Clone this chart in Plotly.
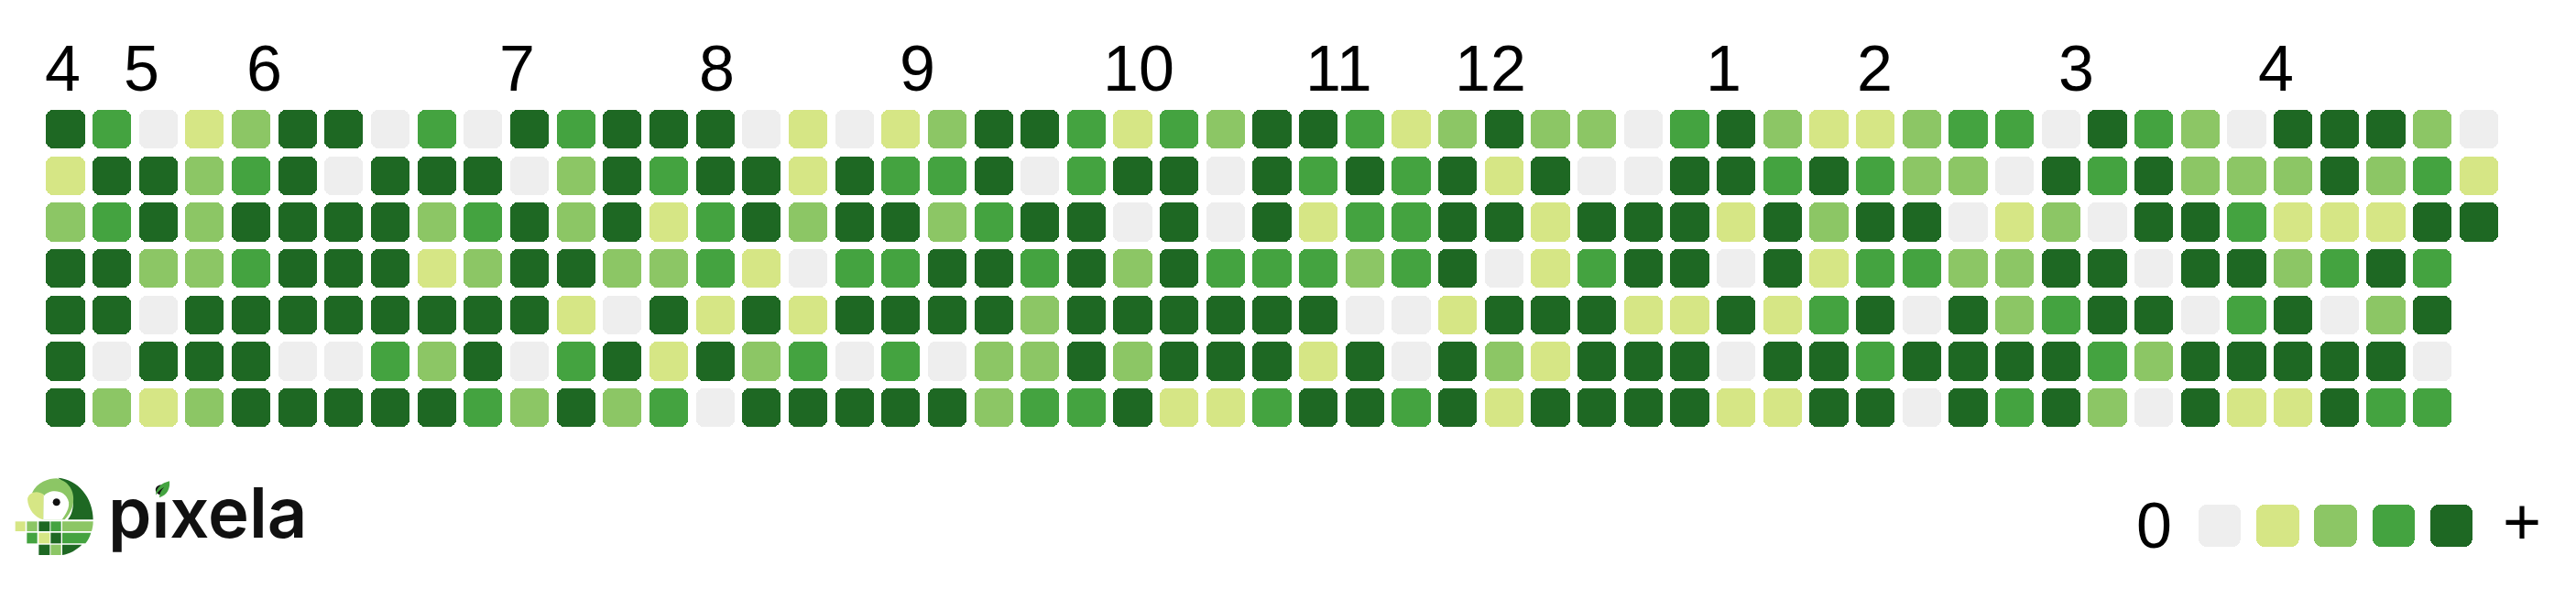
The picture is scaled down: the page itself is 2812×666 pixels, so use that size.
import plotly.graph_objects as go

# contribution levels, one list per weekday row (0 = none ... 4 = most)
row_0 = [4,3,0,1,2,4,4,0,3,0,4,3,4,4,4,0,1,0, 1,2,4,4,3,1,3,2,4,4,3,1,2,4,2,2,0,3, 4,2,1,1,2,3,3,0,4,3,2,0,4,4,4,2,0]
row_1 = [1,4,4,2,3,4,0,4,4,4,0,2,4,3,4,4,1,4, 3,3,4,0,3,4,4,0,4,3,4,3,4,1,4,0,0,4, 4,3,4,3,2,2,0,4,3,4,2,2,2,4,2,3,1]
row_2 = [2,3,4,2,4,4,4,4,2,3,4,2,4,1,3,4,2,4, 4,2,3,4,4,0,4,0,4,1,3,3,4,4,1,4,4,4, 1,4,2,4,4,0,1,2,0,4,4,3,1,1,1,4,4]
row_3 = [4,4,2,2,3,4,4,4,1,2,4,4,2,2,3,1,0,3, 3,4,4,3,4,2,4,3,3,3,2,3,4,0,1,3,4,4, 0,4,1,3,3,2,2,4,4,0,4,4,2,3,4,3]
row_4 = [4,4,0,4,4,4,4,4,4,4,4,1,0,4,1,4,1,4, 4,4,4,2,4,4,4,4,4,4,0,0,1,4,4,4,1,1, 4,1,3,4,0,4,2,3,4,4,0,3,4,0,2,4]
row_5 = [4,0,4,4,4,0,0,3,2,4,0,3,4,1,4,2,3,0, 3,0,2,2,4,2,4,4,4,1,4,0,4,2,1,4,4,4, 0,4,4,3,4,4,4,4,3,2,4,4,4,4,4,0]
row_6 = [4,2,1,2,4,4,4,4,4,3,2,4,2,3,0,4,4,4, 4,4,2,3,3,4,1,1,3,4,4,3,4,1,4,4,4,4, 1,1,4,4,0,4,3,4,2,0,4,1,1,4,3,3]
rows = [row_0, row_1, row_2, row_3, row_4, row_5, row_6]

month_labels = ["4", "5", "6", "7", "8", "9", "10", "11", "12", "1", "2", "3", "4"]
month_weeks = [-0.04, 1.66, 4.30, 9.74, 14.04, 18.37, 22.76, 27.12, 30.33, 35.74, 39.00, 43.34, 47.64]

legend_levels = [0, 1, 2, 3, 4]
level_colors = ["#EEEEEE", "#D6E685", "#8CC665", "#44A340", "#1E6823"]

W, H = 2812, 666
PITCH = 50.66
X0, Y0 = 71.4, 141.2
CELL = 42.2
LEG_PITCH, LEG_CELL, LEG_X0, LEG_Y0 = 63.3, 46.5, 2423, 574

weeks, days, cols = [], [], []
for d, r in enumerate(rows):
    for w, v in enumerate(r):
        weeks.append(w); days.append(d); cols.append(level_colors[v])

half = CELL / PITCH / 2
fig = go.Figure()
fig.add_trace(go.Bar(
    x=weeks, y=[2 * half] * len(weeks), base=[d - half for d in days],
    width=CELL / PITCH, marker=dict(color=cols, line_width=0, cornerradius=8),
    hoverinfo="skip", showlegend=False))
fig.add_trace(go.Bar(
    x=legend_levels, y=[1] * 5, base=[-0.5] * 5,
    width=LEG_CELL / LEG_PITCH, xaxis="x2", yaxis="y2",
    marker=dict(color=level_colors, line_width=0, cornerradius=9),
    hoverinfo="skip", showlegend=False))

def dx(px): return (px - X0) / PITCH
def dy(py): return (py - Y0) / PITCH

# wordmark as a text trace so the leaf shape can sit on top of it
fig.add_trace(go.Scatter(
    x=[dx(118)], y=[dy(568)], mode="text", text=["pixela"], textposition="middle right",
    textfont=dict(family="Inter", size=76, color="#111111", weight=600),
    hoverinfo="skip", showlegend=False))

def P(path):
    """Logo path given in px/3 crop units -> shape on the pixel-sized paper."""
    out = []
    for tok in path.split():
        if "," in tok:
            cmd = ""
            if tok[0].isalpha():
                cmd, tok = tok[0], tok[1:]
            a, b = tok.split(",")
            out.append(f"{cmd}{float(a)/3/W:.6f},{1-(490+float(b)/3)/H:.6f}")
        else:
            out.append(tok)
    return " ".join(out)

def S(path, color):
    return dict(type="path", xref="paper", yref="paper", path=P(path), fillcolor=color, line_width=0, layer="above")

def R(x0, y0, x1, y1, color):
    return S(f"M{x0},{y0} L{x1},{y0} L{x1},{y1} L{x0},{y1} Z", color)

Y, L, M, D = level_colors[1], level_colors[2], level_colors[3], level_colors[4]
shapes = [
    S("M190,95 C255,100 305,160 305,232 L222,232 C245,205 255,140 190,95 Z", D),
    S("M105,145 C120,110 160,97 185,97 C225,105 245,140 240,175 C238,195 228,215 212,232 L143,232 L143,150 Z", L),
    S("M143,155 C160,132 215,130 225,175 C228,195 215,215 203,232 L143,232 Z", "#FFFFFF"),
    S("M90,165 C92,145 120,133 143,150 L141,232 C115,225 92,200 90,165 Z", Y),
    S("M173,175 C173,159 197,159 197,175 C197,191 173,191 173,175 Z", "#111111"),
    R(50, 238, 83, 270, Y), R(88, 238, 122, 270, L), R(127, 238, 163, 270, D), R(166, 238, 200, 270, M),
    S("M204,238 L305,238 C305,250 303,260 300,270 L204,270 Z", L),
    R(88, 275, 122, 310, M), R(127, 275, 163, 310, Y), R(166, 275, 200, 310, D),
    S("M204,275 L298,275 C294,288 288,300 280,310 L204,310 Z", M),
    R(127, 314, 163, 348, D), R(166, 314, 200, 348, L),
    S("M204,314 L268,314 C250,332 228,344 204,348 Z", D),
    R(503, 160, 556, 175, "#FFFFFF"),
    S("M510,152 C510,128 530,112 555,106 C557,130 550,150 522,160 C522,145 528,135 538,125 C525,132 515,142 510,152 Z", M),
]

ann = [dict(x=w - half, y=1 - 75/H, xref="x", yref="paper", yanchor="middle", xanchor="left", text=t, showarrow=False,
            borderpad=0, font=dict(family="Liberation Sans", size=70, color="#000000"))
       for w, t in zip(month_weeks, month_labels)]
ann.append(dict(x=2351/W, y=1-574/H, xref="paper", yref="paper", xanchor="center", yanchor="middle", text="0", showarrow=False, borderpad=0,
                font=dict(family="Liberation Sans", size=70, color="#000000")))
ann.append(dict(x=2753/W, y=1-569/H, xref="paper", yref="paper", xanchor="center", yanchor="middle", text="+", showarrow=False, borderpad=0,
                font=dict(family="Liberation Sans", size=72, color="#000000")))

fig.update_layout(
    width=W, height=H, margin=dict(l=0, r=0, t=0, b=0), paper_bgcolor="white", plot_bgcolor="white",
    barmode="overlay", bargap=0, showlegend=False, shapes=shapes, annotations=ann,
    xaxis=dict(range=[dx(0), dx(W)], visible=False, fixedrange=True),
    yaxis=dict(range=[dy(H), dy(0)], visible=False, fixedrange=True),
    xaxis2=dict(range=[(0 - LEG_X0) / LEG_PITCH, (W - LEG_X0) / LEG_PITCH], visible=False, overlaying="x", fixedrange=True),
    yaxis2=dict(range=[(LEG_Y0 - H) / LEG_CELL, LEG_Y0 / LEG_CELL], visible=False, overlaying="y", fixedrange=True),
)
fig.write_html("out.html", config=dict(displayModeBar=False, responsive=False),
               post_script="document.body.style.margin='0';document.documentElement.style.overflow='hidden';")
